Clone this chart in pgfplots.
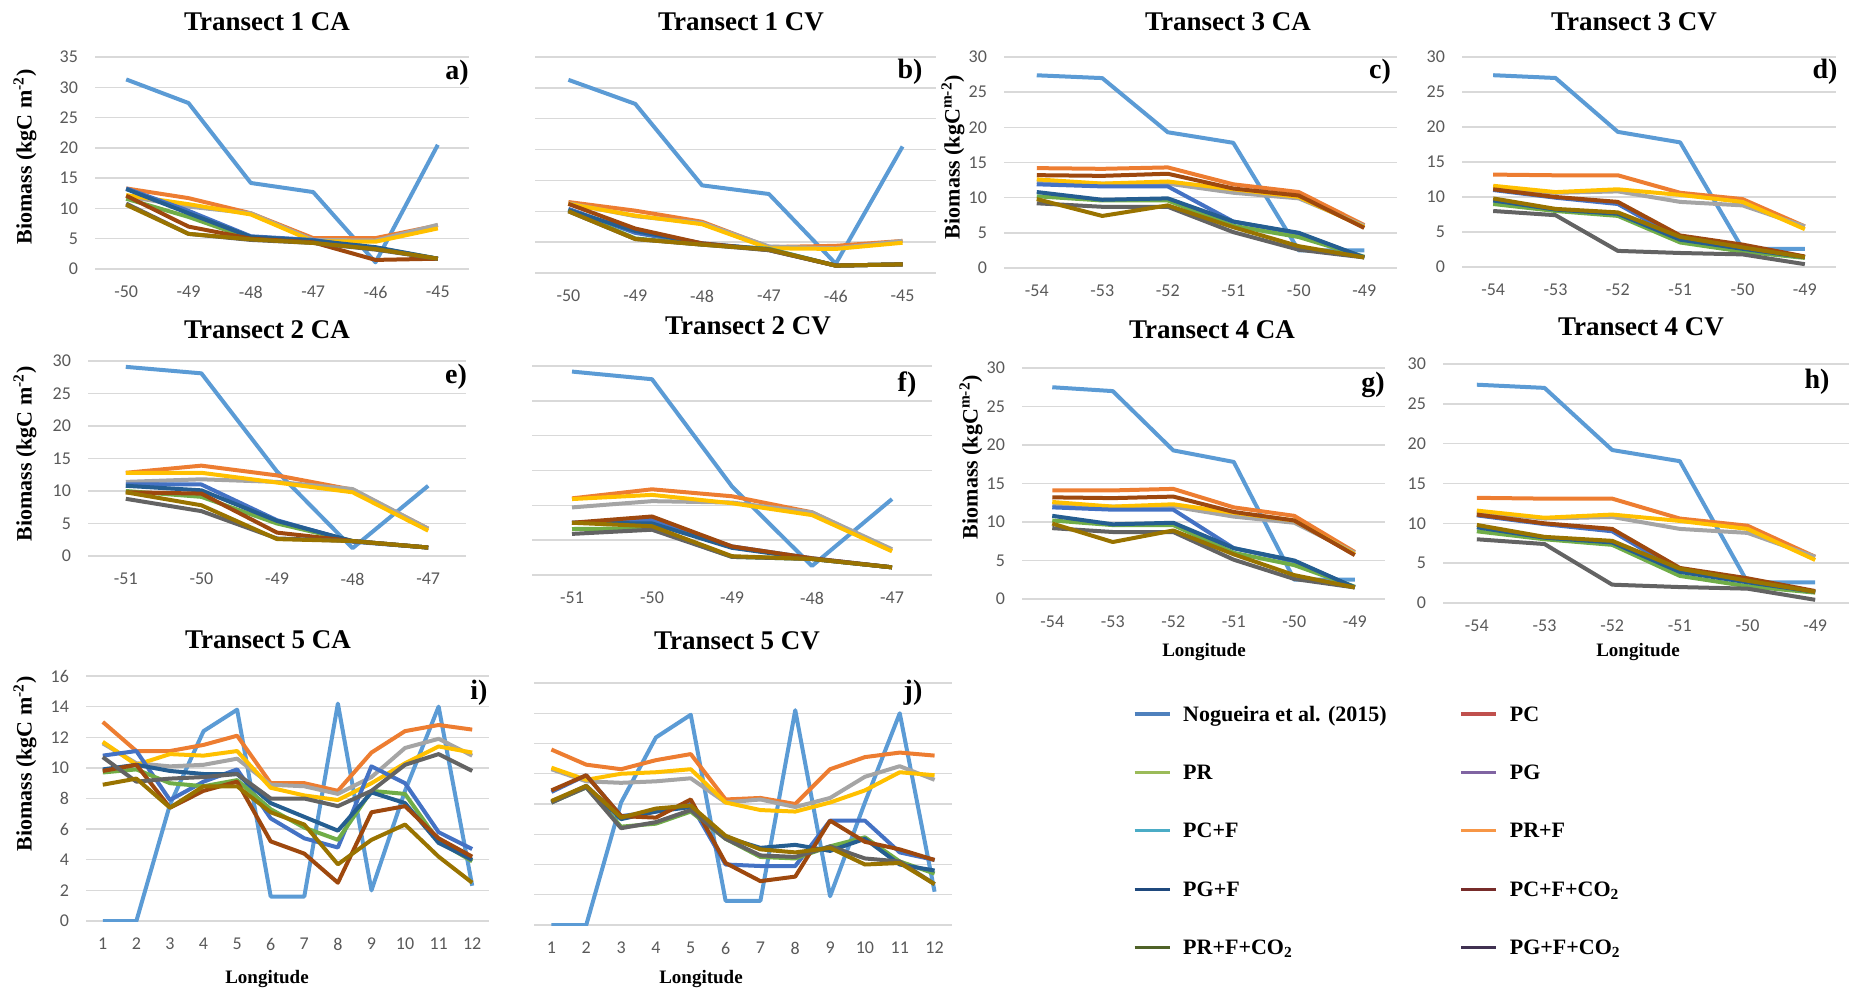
\documentclass[border=0pt]{standalone}
\usepackage{fontspec}
\setmainfont{Liberation Serif}
\newfontfamily\carlito{Carlito}
\usepackage{pgfplots}
\usepackage{pgfplotstable}
\pgfplotsset{compat=1.18}

% plot series colours (as drawn in the panels)
\definecolor{c1}{HTML}{5B9BD5}
\definecolor{c2}{HTML}{ED7D31}
\definecolor{c3}{HTML}{A5A5A5}
\definecolor{c4}{HTML}{FFC000}
\definecolor{c5}{HTML}{4472C4}
\definecolor{c6}{HTML}{70AD47}
\definecolor{c7}{HTML}{255E91}
\definecolor{c8}{HTML}{9E480E}
\definecolor{c9}{HTML}{636363}
\definecolor{c10}{HTML}{997300}
% legend colours (as printed in the legend)
\definecolor{l1}{HTML}{4F81BD}
\definecolor{l2}{HTML}{C0504D}
\definecolor{l3}{HTML}{9BBB59}
\definecolor{l4}{HTML}{8064A2}
\definecolor{l5}{HTML}{4BACC6}
\definecolor{l6}{HTML}{F79646}
\definecolor{l7}{HTML}{1F497D}
\definecolor{l8}{HTML}{772C2A}
\definecolor{l9}{HTML}{4F6228}
\definecolor{l10}{HTML}{403151}
\definecolor{gridc}{HTML}{D9D9D9}
\definecolor{tickc}{HTML}{595959}

\newcommand\titlefont{\bfseries\fontsize{13.5}{14}\selectfont}
\newcommand\lblfont{\bfseries\fontsize{11}{12}\selectfont}
\newcommand\letterfont{\bfseries\fontsize{14}{15}\selectfont}
\newcommand\lonfont{\bfseries\fontsize{9.5}{10}\selectfont}
\newcommand\legfont{\bfseries\fontsize{11}{12}\selectfont}
\newcommand\tickfont{\carlito\fontsize{9}{10}\selectfont}

% columns: x, then s1 = Nogueira et al. (2015), s2..s10 = model runs
\pgfplotstableread{
x s1 s2 s3 s4 s5 s6 s7 s8 s9 s10
-50 31.3 13.3 12.0 12.2 13.3 11.6 13.2 12.1 10.8 10.6
-49 27.4 11.7 10.3 10.7 9.6 8.6 9.2 7.0 5.8 5.8
-48 14.2 9.2 9.2 9.0 5.4 5.0 5.3 5.0 4.8 4.9
-47 12.7 5.1 4.8 4.6 4.8 4.4 4.7 4.4 4.3 4.3
-46 1.1 5.1 4.7 4.5 3.3 3.5 3.6 1.5 3.2 3.3
-45 20.5 7.2 7.3 6.7 1.7 1.7 1.7 1.7 1.7 1.7
}\ta
\pgfplotstableread{
x s1 s2 s3 s4 s5 s6 s7 s8 s9 s10
-50 31.3 11.5 11.3 11.2 10.4 10.2 10.2 11.2 10.0 10.0
-49 27.4 10.1 9.2 9.3 6.5 5.6 6.8 7.2 5.5 5.5
-48 14.2 8.3 8.1 7.9 4.7 4.6 4.8 4.8 4.6 4.6
-47 12.8 4.2 4.3 4.0 3.9 3.9 3.8 3.7 3.7 3.8
-46 1.5 4.4 4.0 3.9 1.2 1.2 1.2 1.2 1.2 1.2
-45 20.5 5.2 5.2 4.9 1.4 1.4 1.4 1.4 1.4 1.4
}\tb
\pgfplotstableread{
x s1 s2 s3 s4 s5 s6 s7 s8 s9 s10
-54 27.4 14.2 12.2 12.6 11.9 10.2 10.8 13.2 9.2 9.8
-53 27.0 14.1 12.0 12.0 11.6 9.6 9.7 13.1 8.7 7.4
-52 19.3 14.3 12.0 12.3 11.6 9.6 9.9 13.4 8.7 8.9
-51 17.8 11.9 10.7 11.2 6.6 6.0 6.6 11.3 5.1 5.8
-50 2.5 10.8 9.9 10.1 4.9 4.4 5.0 10.3 2.6 3.1
-49 2.5 6.1 6.0 5.8 1.5 1.6 1.5 5.7 1.5 1.5
}\tc
\pgfplotstableread{
x s1 s2 s3 s4 s5 s6 s7 s8 s9 s10
-54 27.4 13.2 11.4 11.6 11.0 9.0 9.5 11.1 8.0 9.8
-53 27.0 13.1 10.6 10.7 9.9 8.0 8.2 10.0 7.4 8.3
-52 19.3 13.1 10.8 11.1 9.0 7.3 7.6 9.3 2.3 7.8
-51 17.8 10.6 9.3 10.3 4.0 3.5 3.9 4.5 2.0 4.3
-50 2.6 9.7 8.8 9.3 2.7 2.2 2.6 3.2 1.8 2.8
-49 2.6 5.8 5.8 5.4 1.4 1.3 1.4 1.5 0.4 1.4
}\td
\pgfplotstableread{
x s1 s2 s3 s4 s5 s6 s7 s8 s9 s10
-51 29.1 12.8 11.4 12.8 11.0 10.0 10.8 9.8 8.8 9.8
-50 28.1 13.9 11.8 12.8 11.0 9.1 10.1 9.6 6.9 7.8
-49 13.0 12.4 11.4 11.3 5.5 5.0 5.4 3.6 2.7 2.6
-48 1.2 10.2 10.3 9.8 2.2 2.3 2.3 2.3 2.3 2.3
-47 10.8 4.2 4.2 3.9 1.3 1.3 1.3 1.3 1.3 1.3
}\te
\pgfplotstableread{
x s1 s2 s3 s4 s5 s6 s7 s8 s9 s10
-51 29.2 11.0 9.7 10.9 7.5 6.6 7.5 7.5 5.9 7.5
-50 28.1 12.3 10.6 11.5 7.9 6.7 7.4 8.4 6.5 7.0
-49 12.7 11.3 10.4 10.3 4.1 2.6 3.9 4.1 2.6 2.7
-48 1.3 9.0 9.0 8.6 2.4 2.3 2.3 2.4 2.3 2.3
-47 10.9 3.5 3.7 3.4 1.1 1.1 1.1 1.1 1.1 1.1
}\tf
\pgfplotstableread{
x s1 s2 s3 s4 s5 s6 s7 s8 s9 s10
-54 27.5 14.1 12.2 12.6 11.9 10.2 10.8 13.2 9.2 9.8
-53 27.0 14.1 12.0 12.0 11.6 9.6 9.7 13.1 8.7 7.4
-52 19.3 14.3 12.0 12.3 11.6 9.6 9.9 13.3 8.7 8.9
-51 17.8 11.9 10.7 11.2 6.6 6.0 6.6 11.3 5.1 5.8
-50 2.5 10.8 9.9 10.2 4.9 4.4 5.0 10.2 2.6 3.1
-49 2.5 6.1 6.0 5.8 1.5 1.6 1.5 5.7 1.5 1.5
}\tg
\pgfplotstableread{
x s1 s2 s3 s4 s5 s6 s7 s8 s9 s10
-54 27.4 13.2 11.4 11.6 11.0 9.0 9.5 11.1 8.0 9.8
-53 27.0 13.1 10.6 10.7 9.9 8.0 8.2 10.0 7.4 8.3
-52 19.2 13.1 10.8 11.1 9.0 7.3 7.6 9.3 2.3 7.8
-51 17.8 10.6 9.3 10.3 4.0 3.4 3.9 4.4 2.0 4.3
-50 2.6 9.7 8.8 9.3 2.7 2.1 2.6 3.1 1.8 2.8
-49 2.6 5.8 5.8 5.4 1.4 1.3 1.4 1.5 0.4 1.4
}\th
\pgfplotstableread{
x s1 s2 s3 s4 s5 s6 s7 s8 s9 s10
1 0 13.0 11.6 11.7 10.8 9.7 9.9 9.8 10.7 8.9
2 0 11.1 10.3 10.2 11.1 9.9 10.2 10.2 9.1 9.3
3 7.6 11.1 10.1 10.9 7.9 9.0 9.8 7.4 9.3 7.4
4 12.4 11.5 10.2 10.8 9.1 8.8 9.6 8.5 9.4 8.8
5 13.8 12.1 10.6 11.1 9.9 9.2 9.6 9.1 9.6 8.8
6 1.6 9.0 8.9 8.7 6.7 7.3 7.7 5.2 8.0 7.1
7 1.6 9.0 8.8 8.2 5.4 6.1 6.8 4.4 8.0 6.3
8 14.2 8.5 8.3 7.9 4.8 5.3 5.9 2.5 7.5 3.7
9 2.0 11.0 9.4 9.0 10.1 8.5 8.4 7.1 8.5 5.3
10 8.5 12.4 11.3 10.3 9.0 8.3 7.7 7.5 10.2 6.3
11 14.0 12.8 11.9 11.4 5.8 5.2 5.1 5.4 10.9 4.2
12 2.3 12.5 10.8 11.0 4.7 3.9 4.0 4.2 9.8 2.5
}\ti
\pgfplotstableread{
x s1 s2 s3 s4 s5 s6 s7 s8 s9 s10
1 0 11.6 10.3 10.4 8.8 8.1 8.1 8.9 8.1 8.2
2 0 10.6 9.5 9.6 9.9 9.1 9.2 9.9 9.1 9.2
3 8.1 10.3 9.4 10.0 7.2 6.5 7.0 7.2 6.4 7.1
4 12.4 10.9 9.5 10.1 7.5 6.7 7.5 7.1 6.8 7.7
5 13.9 11.3 9.7 10.3 8.0 7.5 7.8 8.3 7.6 7.9
6 1.6 8.3 8.1 8.1 4.0 5.7 5.8 4.1 5.7 5.9
7 1.6 8.4 8.3 7.6 3.9 4.5 5.1 2.9 4.6 5.0
8 14.2 8.0 7.8 7.5 3.9 4.4 5.3 3.2 4.5 4.8
9 1.9 10.3 8.4 8.1 6.9 5.2 4.9 6.9 5.2 5.1
10 8.1 11.1 9.8 8.9 6.9 5.8 5.7 5.5 4.4 4.0
11 14.0 11.4 10.5 10.1 4.8 4.2 4.0 5.0 4.2 4.1
12 2.2 11.2 9.6 9.9 4.3 3.4 3.6 4.3 2.7 2.7
}\tj

\pgfplotsset{
  panel/.style={
    scale only axis,
    axis line style={draw=none},
    major tick length=0pt,
    ymajorgrids,
    grid style={color=gridc, line width=0.7pt},
    ymin=0,
    tick label style={font=\tickfont, color=tickc},
    /pgf/number format/assume math mode=true,
    yticklabel style={xshift=-5pt},
    xticklabel style={yshift=-5pt},
  },
  lon5/.style={xmin=-50.5, xmax=-44.5, xtick={-50,...,-45},
    xticklabels={-50,-49,-48,-47,-46,-45}},
  lon6/.style={xmin=-54.5, xmax=-48.5, xtick={-54,...,-49},
    xticklabels={-54,-53,-52,-51,-50,-49}},
  lon4/.style={xmin=-51.5, xmax=-46.5, xtick={-51,...,-47},
    xticklabels={-51,-50,-49,-48,-47}},
  pts/.style={xmin=0.5, xmax=12.5, xtick={1,...,12}},
}
\newcommand\series[1]{%
  \pgfplotsinvokeforeach{1,...,10}{%
    \addplot[line width=2pt, line join=round, color=c##1, mark=none]
      table[x=x, y=s##1]{#1};}}

\begin{document}
\begin{tikzpicture}
% row 1
\begin{axis}[panel, lon5, at={(47.5pt,361pt)}, anchor=south west,
  width=187pt, height=106pt, ymax=35, ytick={0,5,...,35}]
\series{\ta}
\end{axis}
\begin{axis}[panel, lon5, at={(267.5pt,359pt)}, anchor=south west,
  width=200.5pt, height=108pt, ymax=35, ytick={0,5,...,35}, yticklabels={}]
\series{\tb}
\end{axis}
\begin{axis}[panel, lon6, at={(502pt,361.5pt)}, anchor=south west,
  width=196.5pt, height=105.5pt, ymax=30, ytick={0,5,...,30}]
\series{\tc}
\end{axis}
\begin{axis}[panel, lon6, at={(731pt,362pt)}, anchor=south west,
  width=187pt, height=105pt, ymax=30, ytick={0,5,...,30}]
\series{\td}
\end{axis}
% row 2
\begin{axis}[panel, lon4, at={(44pt,217.5pt)}, anchor=south west,
  width=189pt, height=97.5pt, ymax=30, ytick={0,5,...,30}]
\series{\te}
\end{axis}
\begin{axis}[panel, lon4, at={(266pt,208pt)}, anchor=south west,
  width=200pt, height=104.5pt, ymax=30, ytick={0,5,...,30}, yticklabels={}]
\series{\tf}
\end{axis}
\begin{axis}[panel, lon6, at={(511pt,196pt)}, anchor=south west,
  width=181.5pt, height=115.5pt, ymax=30, ytick={0,5,...,30}]
\series{\tg}
\end{axis}
\begin{axis}[panel, lon6, at={(721.5pt,194pt)}, anchor=south west,
  width=203pt, height=119.5pt, ymax=30, ytick={0,5,...,30}]
\series{\th}
\end{axis}
% row 3
\begin{axis}[panel, pts, at={(43pt,35pt)}, anchor=south west,
  width=201.5pt, height=122.5pt, ymax=16, ytick={0,2,...,16}]
\series{\ti}
\end{axis}
\begin{axis}[panel, pts, at={(267pt,33pt)}, anchor=south west,
  width=209pt, height=121pt, ymax=16, ytick={0,2,...,16}, yticklabels={}]
\series{\tj}
\end{axis}
% legend
\begin{axis}[hide axis, scale only axis, width=10pt, height=10pt,
  at={(566.5pt,144pt)}, anchor=north west,
  xmin=0, xmax=1, ymin=0, ymax=1,
  legend columns=2, legend cell align=left,
  legend image code/.code={\draw[#1] (0pt,0pt) -- (17.5pt,0pt);},
  legend style={at={(0,1)}, anchor=north west, draw=none, fill=none,
    inner sep=0pt, outer sep=0pt, row sep=18.2pt, font=\legfont,
    nodes={inner sep=0pt, text height=9pt, text depth=2pt},
    /tikz/every odd column/.append style={column sep=6pt},
    /tikz/every even column/.append style={column sep=36.5pt}}]
\addlegendimage{l1, line width=1.6pt}\addlegendentry{Nogueira et al. (2015)}
\addlegendimage{l2, line width=1.6pt}\addlegendentry{PC}
\addlegendimage{l3, line width=1.6pt}\addlegendentry{PR}
\addlegendimage{l4, line width=1.6pt}\addlegendentry{PG}
\addlegendimage{l5, line width=1.6pt}\addlegendentry{PC+F}
\addlegendimage{l6, line width=1.6pt}\addlegendentry{PR+F}
\addlegendimage{l7, line width=1.6pt}\addlegendentry{PG+F}
\addlegendimage{l8, line width=1.6pt}\addlegendentry{PC+F+CO\textsubscript{2}}
\addlegendimage{l9, line width=1.6pt}\addlegendentry{PR+F+CO\textsubscript{2}}
\addlegendimage{l10, line width=1.6pt}\addlegendentry{PG+F+CO\textsubscript{2}}
\end{axis}

% titles
\node[font=\titlefont, anchor=base] at (133.5pt,480pt) {Transect 1 CA};
\node[font=\titlefont, anchor=base] at (370.5pt,480pt) {Transect 1 CV};
\node[font=\titlefont, anchor=base] at (614pt,480pt) {Transect 3 CA};
\node[font=\titlefont, anchor=base] at (817pt,480pt) {Transect 3 CV};
\node[font=\titlefont, anchor=base] at (133.5pt,326pt) {Transect 2 CA};
\node[font=\titlefont, anchor=base] at (374pt,328pt) {Transect 2 CV};
\node[font=\titlefont, anchor=base] at (606pt,326pt) {Transect 4 CA};
\node[font=\titlefont, anchor=base] at (820.5pt,327.5pt) {Transect 4 CV};
\node[font=\titlefont, anchor=base] at (134pt,171.5pt) {Transect 5 CA};
\node[font=\titlefont, anchor=base] at (368.5pt,171pt) {Transect 5 CV};
% panel letters
\node[font=\letterfont] at (228.5pt,459pt) {a)};
\node[font=\letterfont] at (455pt,459.5pt) {b)};
\node[font=\letterfont] at (690pt,459.5pt) {c)};
\node[font=\letterfont] at (912.5pt,459.5pt) {d)};
\node[font=\letterfont] at (228pt,307pt) {e)};
\node[font=\letterfont] at (453.5pt,303pt) {f)};
\node[font=\letterfont] at (686.5pt,303pt) {g)};
\node[font=\letterfont] at (908.5pt,304.5pt) {h)};
\node[font=\letterfont] at (239.5pt,149pt) {i)};
\node[font=\letterfont] at (456.5pt,149pt) {j)};
% axis titles
\node[font=\lblfont, rotate=90] at (12.5pt,417pt) {Biomass (kgC m\textsuperscript{-2})};
\node[font=\lblfont, rotate=90] at (12.5pt,268.5pt) {Biomass (kgC m\textsuperscript{-2})};
\node[font=\lblfont, rotate=90] at (12.5pt,113.5pt) {Biomass (kgC m\textsuperscript{-2})};
\node[font=\lblfont, rotate=90] at (476.5pt,417pt) {Biomass (kgC\textsuperscript{m-2})};
\node[font=\lblfont, rotate=90] at (485.5pt,267pt) {Biomass (kgC\textsuperscript{m-2})};
\node[font=\lonfont] at (602pt,169.5pt) {Longitude};
\node[font=\lonfont] at (819pt,169.5pt) {Longitude};
\node[font=\lonfont] at (133.5pt,6pt) {Longitude};
\node[font=\lonfont] at (350.5pt,6pt) {Longitude};

\pgfresetboundingbox
\path (0pt,0pt) rectangle (925pt,495.5pt);
\end{tikzpicture}
\end{document}
